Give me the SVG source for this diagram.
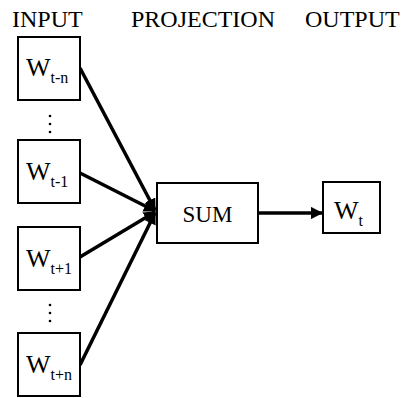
<svg xmlns="http://www.w3.org/2000/svg" width="406" height="398" viewBox="0 0 406 398">
<style>
.box{fill:#fff;stroke:#000;stroke-width:2}
text{font-family:'Liberation Serif','DejaVu Serif','Times New Roman',serif;fill:#000}
.h{font-size:24px}
.w{font-size:26px}
.m{font-size:23px}
.s{font-size:16px}
.c{stroke:#000;stroke-width:3.5;fill:none}
</style>
<defs>
<marker id="ah" viewBox="0 0 10 10" refX="9" refY="5" markerWidth="3.5" markerHeight="3.5" orient="auto" markerUnits="strokeWidth">
<path d="M0,0 L10,5 L0,10 z" fill="#000"/>
</marker>
</defs>
<rect width="406" height="398" fill="#fff"/>
<g id="headers">
<text class="h" x="12" y="27">INPUT</text>
<text class="h" x="131" y="27">PROJECTION</text>
<text class="h" x="305" y="27">OUTPUT</text>
</g>
<g id="connectors">
<line class="c" x1="80" y1="68" x2="155" y2="210" marker-end="url(#ah)"/>
<line class="c" x1="80" y1="173" x2="155" y2="211" marker-end="url(#ah)"/>
<line class="c" x1="80" y1="257" x2="155" y2="212" marker-end="url(#ah)"/>
<line class="c" x1="80" y1="365" x2="155" y2="213" marker-end="url(#ah)"/>
<line class="c" x1="258" y1="213" x2="322" y2="213" marker-end="url(#ah)"/>
</g>
<g id="w-t-n">
<rect class="box" x="18" y="37" width="62" height="63"/>
<text class="w" x="26" y="76">W<tspan class="s" dy="7">t-n</tspan></text>
</g>
<g id="dots-top" fill="#000">
<circle cx="50" cy="116" r="1.3"/>
<circle cx="50" cy="124" r="1.3"/>
<circle cx="50" cy="132" r="1.3"/>
</g>
<g id="w-t-1">
<rect class="box" x="18" y="140" width="62" height="63"/>
<text class="w" x="26" y="180">W<tspan class="s" dy="7">t-1</tspan></text>
</g>
<g id="w-t+1">
<rect class="box" x="18" y="227" width="62" height="63"/>
<text class="w" x="26" y="267">W<tspan class="s" dy="7">t+1</tspan></text>
</g>
<g id="dots-bottom" fill="#000">
<circle cx="50" cy="305" r="1.3"/>
<circle cx="50" cy="313" r="1.3"/>
<circle cx="50" cy="321" r="1.3"/>
</g>
<g id="w-t+n">
<rect class="box" x="18" y="333" width="62" height="63"/>
<text class="w" x="26" y="373">W<tspan class="s" dy="7">t+n</tspan></text>
</g>
<g id="sum">
<rect class="box" x="157" y="183" width="101" height="60"/>
<text class="m" x="207.5" y="222" text-anchor="middle">SUM</text>
</g>
<g id="w-t">
<rect class="box" x="323" y="182" width="57" height="51"/>
<text class="w" x="334" y="219">W<tspan class="s" dy="7">t</tspan></text>
</g>
</svg>
